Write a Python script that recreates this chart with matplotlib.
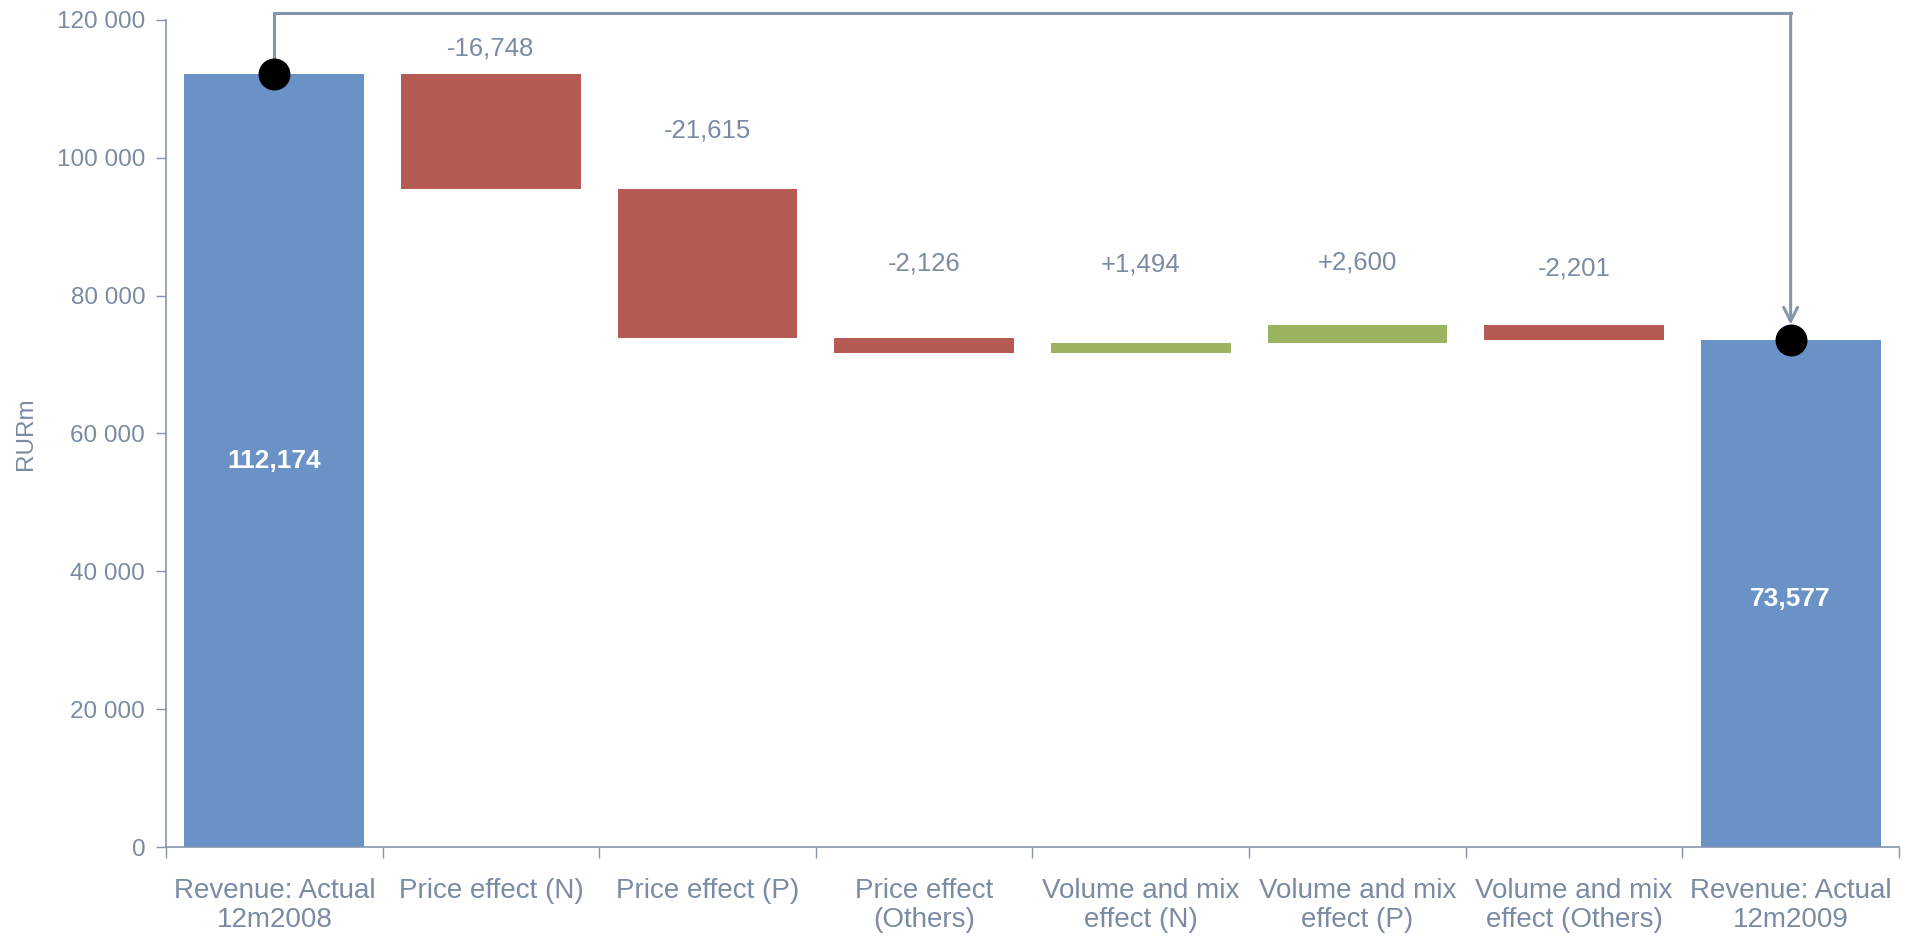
import numpy as np
import matplotlib.pyplot as plt

plt.rcParams['font.family'] = ['Liberation Sans', 'DejaVu Sans']

categories = ['Revenue: Actual\n12m2008', 'Price effect (N)', 'Price effect (P)',
              'Price effect\n(Others)', 'Volume and mix\neffect (N)', 'Volume and mix\neffect (P)',
              'Volume and mix\neffect (Others)', 'Revenue: Actual\n12m2009']
start_total = 112174
end_total = 73577
deltas = [-16748, -21615, -2126, 1494, 2600, -2201]

# label offsets above bar top (pixels)
label_offsets = [25, 59, 75, 78, 62, 56]

text_col = '#7A8BA3'
axis_col = '#8495AE'
blue = '#6A92C7'
red = '#B65A54'
green = '#9BB45F'

fig = plt.figure(figsize=(19.06, 9.38), dpi=100)
ax = fig.add_axes([0.0871, 0.097, 0.9092, 0.8817])

x = np.arange(len(categories))
running = start_total + np.concatenate([[0], np.cumsum(deltas)])
bar_w = 0.83

# totals
ax.bar(x[0], start_total, width=bar_w, color=blue, zorder=2)
ax.bar(x[-1], end_total, width=bar_w, color=blue, zorder=2)

# deltas
for i, d in enumerate(deltas):
    lo = min(running[i], running[i + 1])
    ax.bar(x[i + 1], abs(d), bottom=lo, width=bar_w,
           color=green if d > 0 else red, zorder=2)
    top = max(running[i], running[i + 1])
    ax.annotate(f'{d:+,}', xy=(x[i + 1], top), xytext=(0, label_offsets[i]),
                textcoords='offset pixels', ha='center', va='center',
                fontsize=18.5, color=text_col)

ax.text(x[0], 56000, f'{start_total:,}', ha='center', va='center',
        fontsize=19, fontweight='bold', color='white', zorder=3)
ax.text(x[-1], 36000, f'{end_total:,}', ha='center', va='center',
        fontsize=19, fontweight='bold', color='white', zorder=3)

# connector from first total to last total
top_y = 121000
ax.plot([x[0], x[0], x[-1]], [start_total, top_y, top_y], color=axis_col,
        lw=2.2, clip_on=False, zorder=4)
ax.annotate('', xy=(x[-1], end_total), xytext=(x[-1], top_y),
            arrowprops=dict(arrowstyle='->,head_length=1.0,head_width=0.5',
                            color=axis_col, lw=2.2, shrinkA=0, shrinkB=11),
            annotation_clip=False, zorder=4)
ax.plot([x[0], x[-1]], [start_total, end_total], 'o', color='black',
        markersize=22, clip_on=False, zorder=5)

ax.set_xlim(-0.5, len(categories) - 0.5)
ax.set_ylim(0, 120000)
ax.set_yticks(np.arange(0, 120001, 20000))
ax.set_yticklabels(['0' if v == 0 else f'{v // 1000} 000' for v in range(0, 120001, 20000)])
ax.set_xticks(x)
ax.set_xticklabels(categories, linespacing=1.15)
ax.set_xticks(np.arange(-0.5, len(categories)), minor=True)
ax.tick_params(axis='x', which='major', length=0, pad=22, labelsize=20, labelcolor=text_col)
ax.tick_params(axis='x', which='minor', length=8, width=1, color=axis_col)
ax.tick_params(axis='y', length=7, width=1, color=axis_col, labelsize=17.5,
               labelcolor=text_col, pad=8)
ax.set_ylabel('RURm', fontsize=17.5, color=text_col, labelpad=14)

for s in ['top', 'right']:
    ax.spines[s].set_visible(False)
for s in ['left', 'bottom']:
    ax.spines[s].set_color(axis_col)
    ax.spines[s].set_linewidth(1.2)

fig.savefig('out.png', dpi=100)
